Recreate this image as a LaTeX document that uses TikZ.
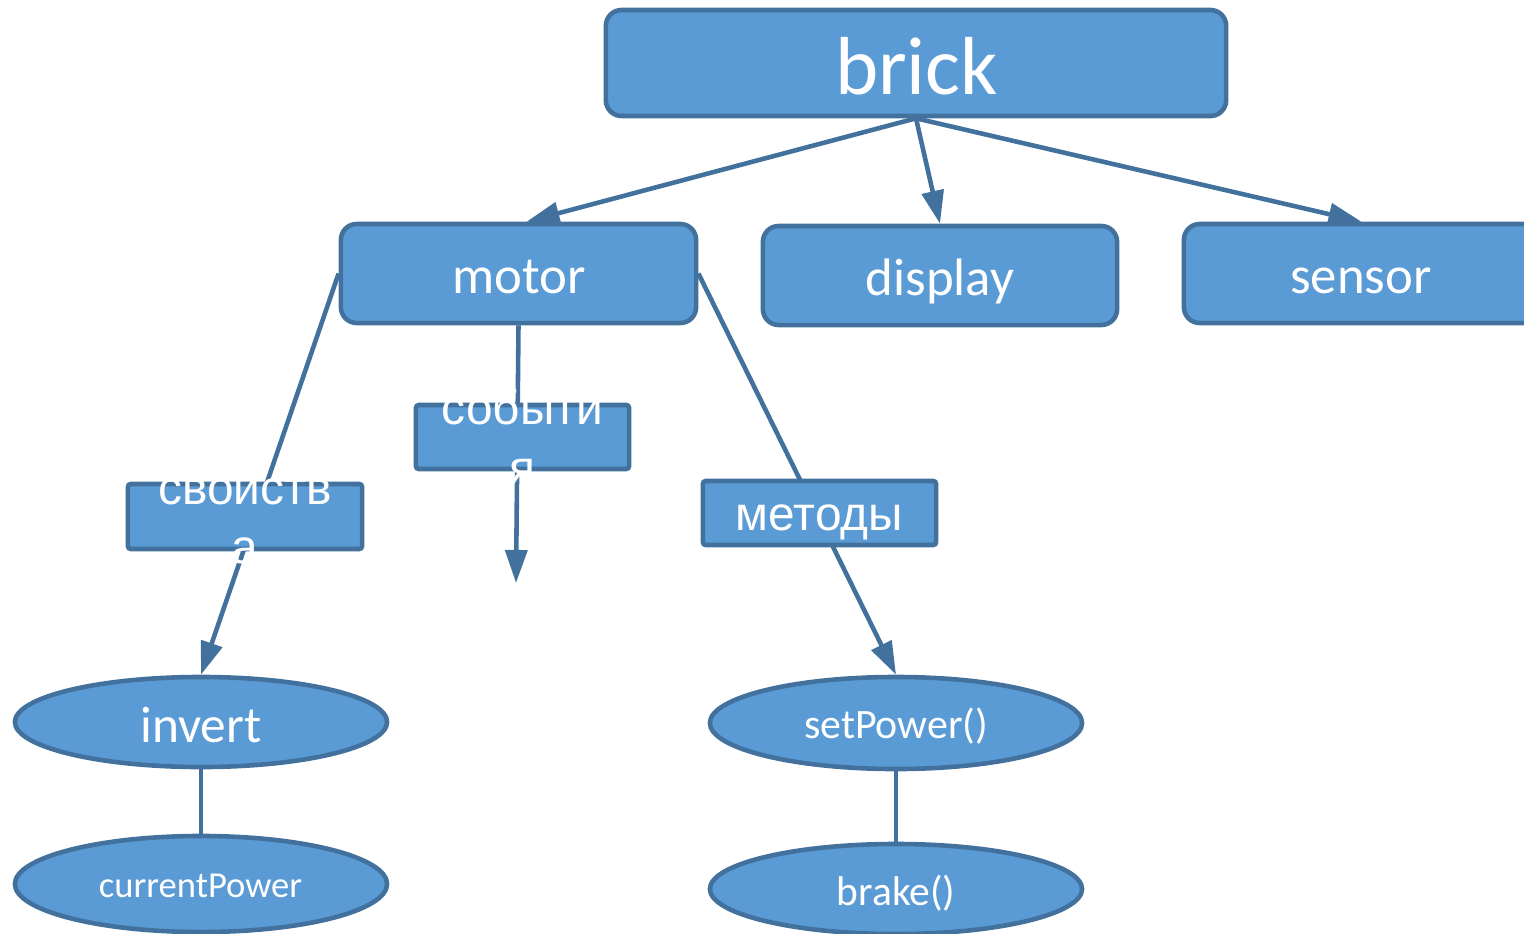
\documentclass[tikz,border=0pt]{standalone}
\usepackage{fontspec}
\setmainfont{Carlito}
\newfontfamily\rufont{Liberation Sans}
\usetikzlibrary{arrows.meta,shapes.geometric}
\definecolor{boxfill}{HTML}{5B9BD5}
\definecolor{boxline}{HTML}{41719C}
\begin{document}
\begin{tikzpicture}[x=0.01cm,y=-0.01cm,
  basebox/.style={fill=boxfill,draw=boxline,line width=1.3pt,inner sep=0pt},
  rbox/.style={basebox,rectangle,rounded corners=4.5pt},
  sbox/.style={basebox,rectangle,rounded corners=0.8pt},
  ebox/.style={basebox,ellipse},
  lbl/.style={text=white,inner sep=0pt,anchor=base},
  rulbl/.style={text=white,inner sep=0pt,align=center,font=\rufont\fontsize{13.6}{17}\selectfont},
  conn/.style={draw=boxline,line width=1.3pt},
  arr/.style={conn,-{Triangle[width=6.2pt,length=9.4pt]}}]
\useasboundingbox (0,0) rectangle (1524,933);
% main nodes
\node[rbox,minimum width=6.20cm,minimum height=1.06cm] (brick) at (916,63) {};
\node[rbox,minimum width=3.55cm,minimum height=0.99cm] (motor) at (518.5,273.5) {};
\node[rbox,minimum width=3.54cm,minimum height=0.99cm] (display) at (940,275.5) {};
\node[rbox,minimum width=3.55cm,minimum height=0.99cm] (sensor) at (1361.5,273.5) {};
\node[ebox,minimum width=3.72cm,minimum height=0.90cm] (invert) at (201,722) {};
\node[ebox,minimum width=3.72cm,minimum height=0.96cm] (cp) at (201,884) {};
\node[ebox,minimum width=3.72cm,minimum height=0.92cm] (setp) at (896,723) {};
\node[ebox,minimum width=3.72cm,minimum height=0.90cm] (brake) at (896,889) {};
\coordinate (evend) at (516,583);
% connectors
\draw[arr] (brick.south) -- ([xshift=0.08cm]motor.north);
\draw[arr] (brick.south) -- (display.north);
\draw[arr] (brick.south) -- (sensor.north);
\draw[arr] (motor.west) -- (invert.north);
\draw[arr] (motor.south) -- (evend);
\draw[arr] (motor.east) -- (setp.north);
\draw[conn] (invert.south) -- (cp.north);
\draw[conn] (setp.south) -- (brake.north);
% label boxes on the connectors
\node[sbox,minimum width=2.34cm,minimum height=0.65cm] (svo) at (245,516.5) {};
\node[sbox,minimum width=2.13cm,minimum height=0.64cm] (sob) at (522.5,437) {};
\node[sbox,minimum width=2.33cm,minimum height=0.64cm] (met) at (819.5,513) {};
% texts
\node[lbl,font=\fontsize{23.4}{28}\selectfont] (tbrick) at (916.5,94) {brick};
\node[lbl,font=\fontsize{15}{18}\selectfont] (tmotor) at (519,293) {motor};
\node[lbl,font=\fontsize{15}{18}\selectfont] (tdisplay) at (940,295) {display};
\node[lbl,font=\fontsize{15}{18}\selectfont] (tsensor) at (1361,293) {sensor};
\node[lbl,font=\fontsize{14.6}{18}\selectfont] (tinvert) at (201,742) {invert};
\node[lbl,font=\fontsize{10.4}{13}\selectfont] (tcp) at (200.5,897) {currentPower};
\node[lbl,font=\fontsize{11.9}{14}\selectfont] (tsetp) at (896,738) {setPower()};
\node[lbl,font=\fontsize{11.8}{14}\selectfont] (tbrake) at (896,905) {brake()};
\node[rulbl] (tsvo) at (svo) {свойств\\а};
\node[rulbl] (tsob) at (sob) {событи\\я};
\node[rulbl,anchor=base] (tmet) at (819.5,530) {методы};
\end{tikzpicture}
\end{document}
